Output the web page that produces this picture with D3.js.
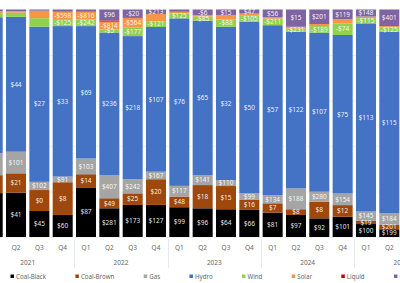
<!DOCTYPE html>
<html>
<head>
<meta charset="utf-8">
<script src="https://d3js.org/d3.v7.min.js"></script>
<style>
  body { margin: 0; background: #fff; }
  svg text { font-family: "Segoe UI", "Noto Sans", sans-serif; }
</style>
</head>
<body>
<div id="chart"></div>
<script>
// periods on the axis (the chart is cropped, 2021 Q1 and 2025 Q3/Q4 run off the edges)
var years = ["2021", "2022", "2023", "2024", "2025"];
var quarters = ["Q1", "Q2", "Q3", "Q4"];

var seriesNames = ["Coal-Black", "Coal-Brown", "Gas", "Hydro", "Wind", "Solar", "Liquid", "Other"];

// share of each bar (%), Q1 2021 .. Q2 2025
var coalBlackShare = [19.3, 19.5, 11.4, 9.7, 21.8, 12.6, 14.1, 14.1, 13.1, 12.6, 12.2, 11.9, 10.7, 9.7, 8.2, 8.9, 5.7, 3.4];
var coalBrownShare = [7.9, 8.5, 9.2, 14.4, 5.8, 4.4, 5.1, 11.3, 4.7, 10.2, 10.2, 4.4, 4.1, 2.5, 7.3, 5.1, 1.5, 1.9];
var gasShare       = [9.7, 9.5, 3.6, 2.5, 6.9, 10.2, 6.2, 3.3, 4.7, 4.4, 2.6, 2.9, 3.6, 9.2, 4.4, 5.1, 4.0, 5.1];
var hydroShare     = [59.8, 59.3, 68.1, 66.2, 58.2, 62.5, 63.0, 63.6, 73.7, 67.8, 67.4, 75.4, 74.7, 68.8, 69.9, 69.6, 82.8, 80.0];
var windShare      = [1.8, 1.8, 3.7, 3.1, 2.9, 1.3, 3.7, 2.6, 2.1, 1.8, 3.2, 2.9, 2.9, 1.4, 2.9, 5.1, 2.3, 1.7];
var solarShare     = [0.9, 0.7, 3.3, 3.2, 3.4, 3.5, 4.2, 3.1, 0.8, 0.7, 2.0, 0.7, 0.7, 0.8, 0.9, 1.8, 0.7, 0.7];
var liquidShare    = [0, 0, 0, 0, 0, 0.5, 0.1, 0, 0, 0, 0, 0, 0, 0, 0, 0, 0, 0];
var otherShare     = [0.7, 0.7, 0.5, 1.0, 1.0, 4.8, 3.7, 2.0, 1.0, 2.4, 2.4, 1.8, 3.3, 7.6, 6.4, 4.3, 3.1, 7.3];

// data labels ($), null = label not shown
var coalBlackLabel = [null, 41, 45, 60, 87, 281, 173, 127, 99, 96, 64, 66, 81, 97, 92, 101, 100, 199];
var coalBrownLabel = [null, 21, 0, 8, 14, 49, 25, 20, 48, 18, 15, 16, 7, 8, 8, 12, 19, 201];
var gasLabel       = [null, 101, 102, 91, 103, 407, 242, 167, 117, 141, 110, 99, 134, 188, 280, 154, 145, 184];
var hydroLabel     = [null, 44, 27, 33, 69, 236, 218, 107, 76, 65, 32, 50, 57, 122, 107, 75, 113, 115];
var windLabel      = [null, null, null, -125, -242, -5, -177, -121, 125, -85, -88, -105, -211, -231, -189, -74, -115, -125];
var solarLabel     = [null, null, null, -598, -816, -814, -564, null, null, null, null, null, null, null, null, null, null, null];
var liquidLabel    = [null, null, null, null, null, null, null, null, null, null, null, null, null, null, null, null, null, null];
var otherLabel     = [null, null, null, null, null, 96, -20, 213, null, -6, 15, 47, 56, 15, 201, 119, 148, 401];

var colors = ["#000000", "#9E480E", "#A5A5A5", "#4472C4", "#92D050", "#F79646", "#C00000", "#8064A2"];

var shares = [coalBlackShare, coalBrownShare, gasShare, hydroShare, windShare, solarShare, liquidShare, otherShare];
var labels = [coalBlackLabel, coalBrownLabel, gasLabel, hydroLabel, windLabel, solarLabel, liquidLabel, otherLabel];

var width = 400, height = 283;

var periods = [];
years.forEach(function(y) {
    quarters.forEach(function(q) { periods.push(y + " " + q); });
});

var rows = coalBlackShare.map(function(d, i) {
    var r = { period: periods[i], i: i };
    seriesNames.forEach(function(s, k) { r[s] = shares[k][i]; });
    return r;
});

var fmt = function(v) { return (v < 0 ? "-$" : "$") + Math.abs(v); };

var svg = d3.select("#chart").append("svg")
    .attr("width", width)
    .attr("height", height);

var x = d3.scaleBand()
    .domain(periods)
    .range([-18.97, 447.63])
    .paddingInner(0.142)
    .paddingOuter(0.071);

var y = d3.scaleLinear()
    .domain([0, 1])
    .range([237, 9.5]);

// faint gridlines
svg.append("g").selectAll("line")
    .data(y.ticks(5))
    .enter().append("line")
    .attr("x1", 0).attr("x2", width)
    .attr("y1", function(d) { return y(d) + 0.5; })
    .attr("y2", function(d) { return y(d) + 0.5; })
    .attr("stroke", "#f2f2f2");

var stack = d3.stack()
    .keys(seriesNames)
    .offset(d3.stackOffsetExpand);

var layers = stack(rows);

var layer = svg.append("g").selectAll("g")
    .data(layers)
    .enter().append("g")
    .attr("fill", function(d, k) { return colors[k]; });

layer.selectAll("rect")
    .data(function(d) { return d; })
    .enter().append("rect")
    .attr("x", function(d) { return x(d.data.period); })
    .attr("width", x.bandwidth())
    .attr("y", function(d) { return y(d[1]); })
    .attr("height", function(d) { return y(d[0]) - y(d[1]); });

// data labels
var labelG = svg.append("g");
layers.forEach(function(l, k) {
    l.forEach(function(d, i) {
        var v = labels[k][i];
        if (v === null) return;
        labelG.append("text")
            .attr("x", x(d.data.period) + x.bandwidth() / 2)
            .attr("y", (y(d[0]) + y(d[1])) / 2)
            .attr("dy", "0.35em")
            .attr("text-anchor", "middle")
            .attr("font-size", 6.5)
            .attr("fill", "#ffffff")
            .attr("fill-opacity", 0.92)
            .text(fmt(v));
    });
});

// quarter axis
svg.append("g").selectAll("text")
    .data(periods)
    .enter().append("text")
    .attr("x", function(d) { return x(d) + x.bandwidth() / 2; })
    .attr("y", 250)
    .attr("text-anchor", "middle")
    .attr("font-size", 6.5)
    .attr("fill", "#666")
    .text(function(d) { return d.split(" ")[1]; });

// years + separators
var yearG = svg.append("g");
years.forEach(function(yr) {
    var first = x(yr + " Q1"), last = x(yr + " Q4") + x.bandwidth();
    yearG.append("text")
        .attr("x", (first + last) / 2)
        .attr("y", 264.5)
        .attr("text-anchor", "middle")
        .attr("font-size", 6.5)
        .attr("fill", "#666")
        .text(yr);
    var sx = Math.round(last + x.step() * x.paddingInner() / 2) + 0.5;
    yearG.append("line")
        .attr("x1", sx).attr("x2", sx)
        .attr("y1", 239).attr("y2", 268)
        .attr("stroke", "#e4e8ef");
});

// legend
var legend = svg.append("g");
var lx = 10.5;
seriesNames.forEach(function(s, k) {
    legend.append("rect")
        .attr("x", lx).attr("y", 274.5)
        .attr("width", 3.5).attr("height", 3.5)
        .attr("fill", colors[k]);
    var t = legend.append("text")
        .attr("x", lx + 5.5)
        .attr("y", 278.5)
        .attr("font-size", 6.2)
        .attr("fill", "#666")
        .text(s);
    lx = lx + 5.5 + t.node().getComputedTextLength() + 29.3;
});
</script>
</body>
</html>
